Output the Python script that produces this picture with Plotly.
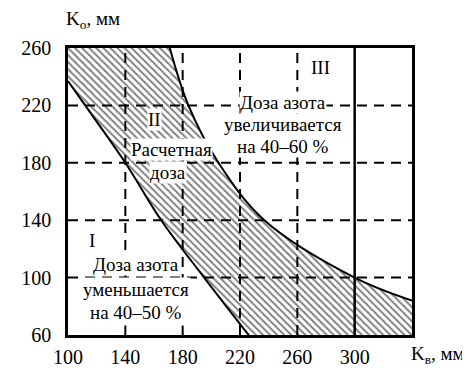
import plotly.graph_objects as go

# boundary of zone II
lower_x = [100, 112, 140, 165, 195, 226]
lower_y = [237, 220, 180, 140, 100, 60]
upper_x = [171, 184, 205, 237, 300, 340]
upper_y = [260, 220, 180, 140, 100, 84]

x_ticks = [100, 140, 180, 220, 260, 300]
y_ticks = [60, 100, 140, 180, 220, 260]
x_grid = [140, 180, 220, 260]
y_grid = [100, 140, 180, 220]
x_range = [100, 340]
y_range = [60, 260]

FONT = "Times New Roman, Liberation Serif, DejaVu Serif, serif"
hatch = dict(shape="\\", size=5, solidity=0.4, fgcolor="black", bgcolor="white")

fig = go.Figure()
# hatched part left of the upper curve start
fig.add_trace(go.Scatter(x=[x_range[0], upper_x[0], upper_x[0], x_range[0]],
                         y=[y_range[0], y_range[0], y_range[1], y_range[1]],
                         fill="toself", mode="none", fillcolor="white", fillpattern=hatch,
                         hoverinfo="skip"))
# under the upper curve
fig.add_trace(go.Scatter(x=upper_x, y=upper_y, mode="lines", line=dict(color="black", width=2, shape="spline"),
                         fill="tozeroy", fillcolor="white", fillpattern=hatch, hoverinfo="skip"))
# blank out zone I below the lower curve
fig.add_trace(go.Scatter(x=lower_x, y=lower_y, mode="lines", line=dict(color="black", width=2, shape="spline"),
                         fill="tozeroy", fillcolor="white", hoverinfo="skip"))

for gx in x_grid:
    fig.add_shape(type="line", x0=gx, x1=gx, y0=y_range[0], y1=y_range[1], layer="above",
                  line=dict(color="black", width=2, dash="10px,7px"))
for gy in y_grid:
    fig.add_shape(type="line", x0=x_range[0], x1=x_range[1], y0=gy, y1=gy, layer="above",
                  line=dict(color="black", width=2, dash="10px,7px"))
fig.add_shape(type="line", x0=300, x1=300, y0=y_range[0], y1=y_range[1], layer="above",
              line=dict(color="black", width=2.5))

def label(x, y, text, pad=0):
    fig.add_annotation(x=x, y=y, text=text, showarrow=False, bgcolor="white",
                       borderpad=pad, font=dict(family=FONT, size=19, color="black"))

label(117, 126, "I")
label(147.5, 109, "Доза азота")
label(147.5, 91.5, "уменьшается", pad=1)
label(147.5, 75.5, "на 40–50 %", pad=2)
label(160.5, 210, "II")
label(172, 189.5, "Расчетная")
label(170, 173, "доза")
label(276.5, 246.5, "III")
label(250, 222, "Доза азота")
label(250, 207, "увеличивается")
label(250, 191.5, "на 40–60 %")

fig.add_annotation(xref="paper", yref="paper", x=-0.012, y=1.097, xanchor="left", yanchor="middle",
                   text="K<sub>o</sub>, мм", showarrow=False, font=dict(family=FONT, size=19, color="black"))
fig.add_annotation(xref="paper", yref="paper", x=0.99, y=-0.07, xanchor="left", yanchor="middle",
                   text="K<sub>в</sub>, мм", showarrow=False, font=dict(family=FONT, size=19, color="black"))

# page body has an 8px margin, so the figure is drawn 8px smaller
fig.update_layout(width=462, height=360, margin=dict(l=60, r=58, t=40, b=33),
                  paper_bgcolor="white", plot_bgcolor="white", showlegend=False,
                  font=dict(family=FONT, size=20, color="black"))
fig.update_xaxes(range=x_range, tickvals=x_ticks, showgrid=False, zeroline=False, showline=True,
                 mirror=True, linewidth=2.5, linecolor="black", ticks="", ticklabelstandoff=2,
                 automargin=False)
fig.update_yaxes(range=y_range, tickvals=y_ticks, showgrid=False, zeroline=False, showline=True,
                 mirror=True, linewidth=2.5, linecolor="black", ticks="", ticklabelstandoff=10,
                 automargin=False)

fig.write_html("out.html")
